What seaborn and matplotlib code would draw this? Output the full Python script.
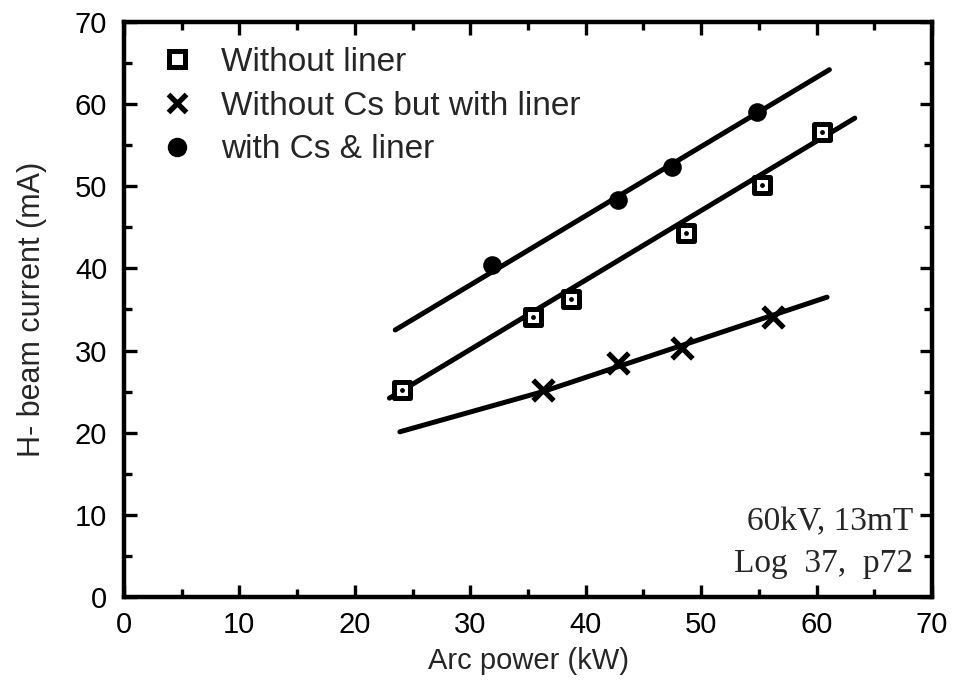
import matplotlib
matplotlib.use("Agg")
import matplotlib.pyplot as plt
import seaborn as sns
import pandas as pd
from matplotlib.lines import Line2D
from matplotlib.ticker import MultipleLocator

# measured points
liner_x = [24.1, 35.4, 38.7, 48.7, 55.3, 60.5]
liner_y = [25.2, 34.1, 36.3, 44.3, 50.2, 56.6]
nocs_x = [36.3, 42.8, 48.3, 56.2]
nocs_y = [25.2, 28.5, 30.3, 34.1]
cs_x = [31.9, 42.8, 47.5, 54.8]
cs_y = [40.4, 48.3, 52.3, 59.0]

# fitted lines (end points)
fit_liner_x = [23.0, 63.3]
fit_liner_y = [24.2, 58.3]
fit_nocs_x = [23.9, 36.3, 60.9]
fit_nocs_y = [20.1, 25.0, 36.5]
fit_cs_x = [23.5, 61.1]
fit_cs_y = [32.5, 64.2]

labels = ["Without liner", "Without Cs but with liner", "with Cs & liner"]

sns.set_style("ticks")
plt.rcParams['font.family'] = ['Liberation Sans', 'DejaVu Sans']

fig = plt.figure(figsize=(9.6, 6.9), dpi=100)
ax = fig.add_axes([0.129, 0.135, 0.842, 0.833])

for fx, fy in [(fit_liner_x, fit_liner_y), (fit_nocs_x, fit_nocs_y), (fit_cs_x, fit_cs_y)]:
    sns.lineplot(x=fx, y=fy, ax=ax, color='black', linewidth=3.6, sort=False,
                 estimator=None)

df_l = pd.DataFrame({'x': liner_x, 'y': liner_y})
sns.scatterplot(data=df_l, x='x', y='y', ax=ax, marker='s', s=130,
                facecolor='white', edgecolor='black', linewidth=3.6, zorder=5)
sns.scatterplot(data=df_l, x='x', y='y', ax=ax, marker='o', s=12,
                color='black', linewidth=0, zorder=6)
sns.scatterplot(x=nocs_x, y=nocs_y, ax=ax, marker='x', s=220,
                color='black', linewidth=3.8, zorder=5)
sns.scatterplot(x=cs_x, y=cs_y, ax=ax, marker='o', s=180,
                color='black', linewidth=0, zorder=5)

ax.set_xlim(0, 70)
ax.set_ylim(0, 70)
ax.xaxis.set_major_locator(MultipleLocator(10))
ax.yaxis.set_major_locator(MultipleLocator(10))
ax.xaxis.set_minor_locator(MultipleLocator(5))
ax.yaxis.set_minor_locator(MultipleLocator(5))
ax.tick_params(which='both', direction='in', top=True, right=True, width=2.4,
               labelsize=21, colors='black')
ax.tick_params(which='major', length=9)
ax.tick_params(which='minor', length=6)
ax.tick_params(axis='x', pad=10)
ax.tick_params(axis='y', pad=12)
for sp in ax.spines.values():
    sp.set_linewidth(3.2)
    sp.set_color('black')

ax.set_xlabel('Arc power (kW)', fontsize=21, labelpad=6)
ax.set_ylabel('H- beam current (mA)', fontsize=22, labelpad=20)

handles = [
    Line2D([], [], linestyle='none', marker='s', markersize=11, markerfacecolor='white',
           markeredgecolor='black', markeredgewidth=3.6),
    Line2D([], [], linestyle='none', marker='x', markersize=13, color='black',
           markeredgewidth=3.8),
    Line2D([], [], linestyle='none', marker='o', markersize=13, color='black'),
]
leg = ax.legend(handles, labels, loc='upper left', frameon=False, fontsize=24,
                handletextpad=0.7, labelspacing=0.38, borderaxespad=0.0,
                handlelength=1.2, bbox_to_anchor=(0.025, 0.98))

ax.text(0.9765, 0.130, '60kV, 13mT', transform=ax.transAxes, ha='right', va='center',
        fontsize=24, family=['Liberation Serif'])
ax.text(0.9765, 0.058, 'Log  37,  p72', transform=ax.transAxes, ha='right', va='center',
        fontsize=24, family=['Liberation Serif'])

fig.savefig('out.png', dpi=100)
